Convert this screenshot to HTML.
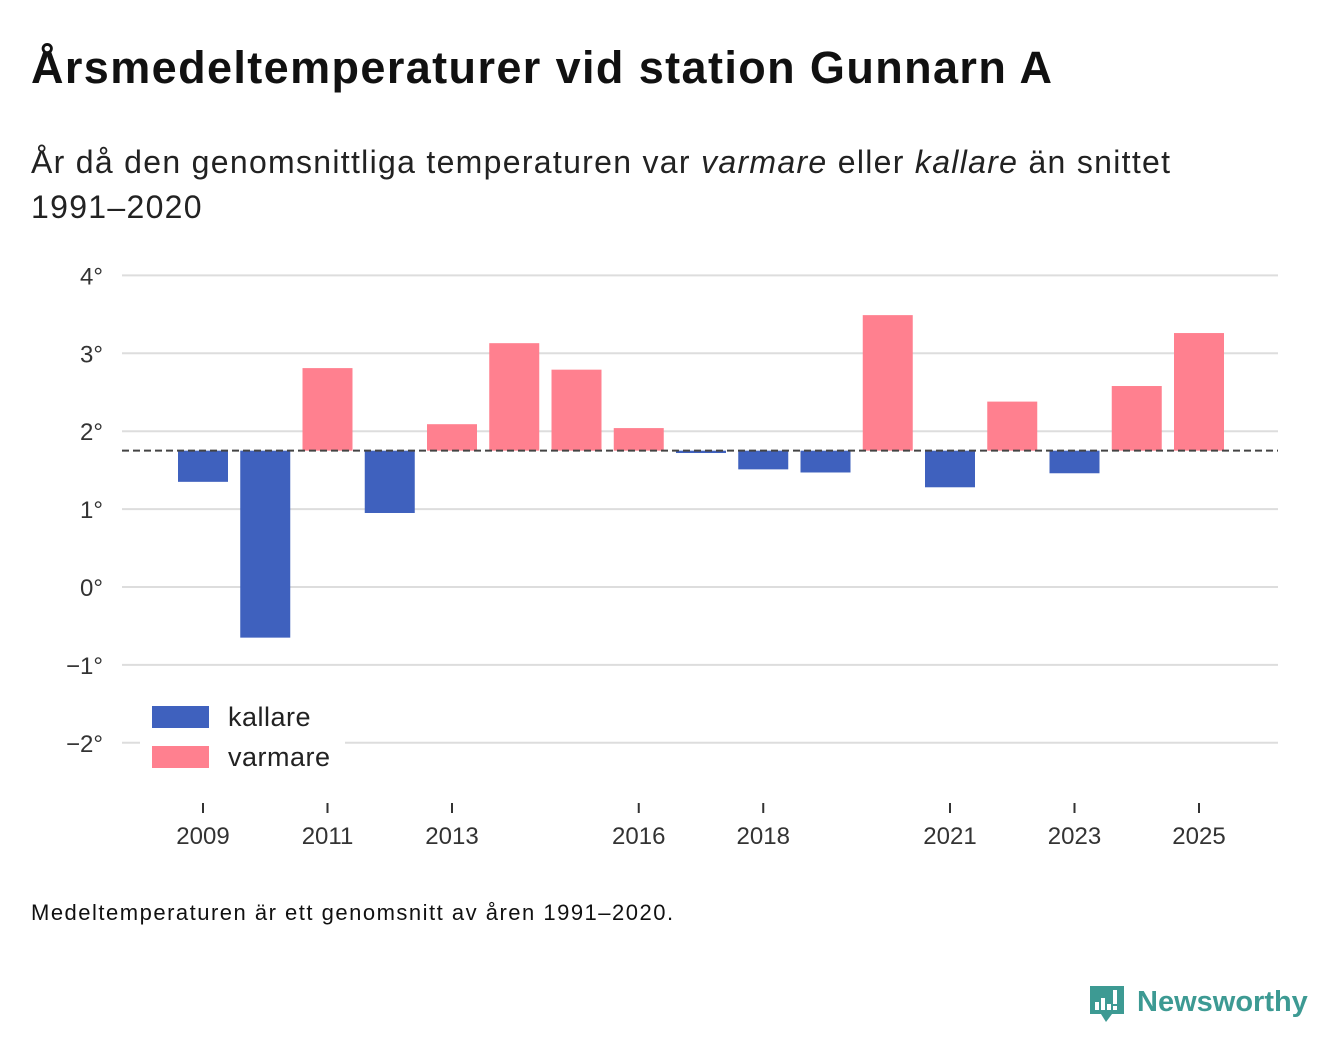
<!DOCTYPE html>
<html><head><meta charset="utf-8"><style>
body{margin:0;width:1340px;height:1056px;background:#fff;font-family:"Liberation Sans","DejaVu Sans",sans-serif;position:relative;overflow:hidden;color:#111}
.t{position:absolute;left:31px;top:42px;font-size:45px;font-weight:bold;margin:0;letter-spacing:1.4px;white-space:nowrap}
.s{position:absolute;left:31px;top:140px;font-size:32px;line-height:45px;margin:0;width:1200px;color:#222;letter-spacing:1.3px}
.f{position:absolute;left:31px;top:900px;font-size:22px;color:#111;letter-spacing:1.5px;white-space:nowrap}
.logo{position:absolute;left:1088px;top:982px}
</style></head><body>
<h1 class="t">Årsmedeltemperaturer vid station Gunnarn A</h1>
<p class="s">År då den genomsnittliga temperaturen var <i>varmare</i> eller <i>kallare</i> än snittet<br>1991–2020</p>
<svg id="c" width="1340" height="1056" style="position:absolute;left:0;top:0"></svg>
<div class="f">Medeltemperaturen är ett genomsnitt av åren 1991–2020.</div>
<div class="logo">
<svg width="230" height="46"><path d="M2 4h34v28h-12l-6 8-5-8H2z" fill="#3d9a93"/><rect x="7" y="20" width="4" height="8" fill="#fff"/><rect x="13" y="16" width="4" height="12" fill="#fff"/><rect x="19" y="22" width="4" height="6" fill="#fff"/><rect x="25" y="8" width="4" height="14" fill="#fff"/><rect x="25" y="24" width="4" height="4" fill="#fff"/><text x="49" y="29" font-size="29" font-weight="bold" fill="#3d9a93" font-family="Liberation Sans,sans-serif">Newsworthy</text></svg></div>
<script>
const years=[2009,2010,2011,2012,2013,2014,2015,2016,2017,2018,2019,2020,2021,2022,2023,2024,2025];
const temps=[1.35,-0.65,2.81,0.95,2.09,3.13,2.79,2.04,1.72,1.51,1.47,3.49,1.28,2.38,1.46,2.58,3.26];
const avg=1.75;
const yTicks=[4,3,2,1,0,-1,-2];
const yTickLabels=["4°","3°","2°","1°","0°","−1°","−2°"];
const xTicks=[2009,2011,2013,2016,2018,2021,2023,2025];
const svg=document.getElementById('c');const NS='http://www.w3.org/2000/svg';
const y=v=>587-v*77.9;const x=yr=>203+(yr-2009)*62.25;
function mk(t,a,p){const e=document.createElementNS(NS,t);for(const k in a)e.setAttribute(k,a[k]);(p||svg).appendChild(e);return e;}
yTicks.forEach((v,i)=>{
const g=mk('line',{x1:122,x2:1278,y1:y(v),y2:y(v),stroke:'#ddd','stroke-width':2});


const t=mk('text',{x:103,y:y(v)+9,'text-anchor':'end','font-size':24,fill:'#333','font-family':'Liberation Sans,sans-serif'});t.textContent=yTickLabels[i];


});
years.forEach((yr,i)=>{const v=temps[i];const top=Math.min(y(v),y(avg)),h=Math.abs(y(v)-y(avg));
const r=mk('rect',{x:x(yr)-25,y:top,width:50,height:Math.max(h,1),fill:v<avg?'#3f61be':'#ff808f'});


});
const bl=mk('line',{x1:122,x2:1278,y1:y(avg),y2:y(avg),stroke:'#444','stroke-width':2,'stroke-dasharray':'7,4'});


xTicks.forEach(yr=>{mk('line',{x1:x(yr),x2:x(yr),y1:803,y2:813,stroke:'#333','stroke-width':2});
const t=mk('text',{x:x(yr),y:844,'text-anchor':'middle','font-size':24,fill:'#333','font-family':'Liberation Sans,sans-serif'});t.textContent=yr;


});
const lg=mk('g',{});

mk('rect',{x:140,y:690,width:205,height:92,fill:'#fff'},lg);
[['kallare','#3f61be',706],['varmare','#ff808f',746]].forEach(([n,c,yy])=>{
const r=mk('rect',{x:152,y:yy,width:57,height:22,fill:c},lg);


const t=mk('text',{x:228,y:yy+20,'font-size':27,fill:'#222','font-family':'Liberation Sans,sans-serif','letter-spacing':0.5},lg);t.textContent=n;


});
</script>
</body></html>
